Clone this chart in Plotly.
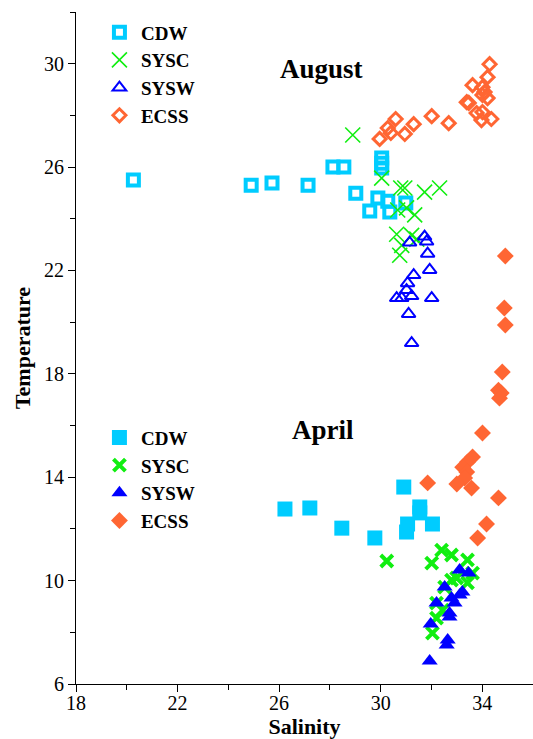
import plotly.graph_objects as go

# ---------------- data (Salinity, Temperature) ----------------
aug_cdw_s = [20.26, 24.90, 25.72, 27.14, 28.12, 28.55, 29.02, 29.57, 29.89, 30.04, 30.04, 30.04, 30.28, 30.36, 30.99]
aug_cdw_t = [25.50, 25.30, 25.38, 25.30, 26.00, 26.00, 24.99, 24.30, 24.80, 26.35, 26.15, 25.96, 24.68, 24.26, 24.61]

aug_sysc_s = [28.90, 30.04, 30.79, 30.95, 31.73, 32.32, 30.67, 31.02, 31.34, 30.63, 31.22, 31.42, 30.83, 30.75]
aug_sysc_t = [27.24, 25.57, 25.19, 25.19, 25.03, 25.19, 24.34, 24.42, 24.15, 23.40, 23.36, 23.21, 22.97, 22.59]

aug_sysw_s = [31.73, 31.81, 31.14, 31.85, 31.93, 31.30, 31.06, 31.02, 31.22, 30.83, 30.63, 32.01, 31.10, 31.22]
aug_sysw_t = [23.31, 23.12, 23.08, 22.65, 22.02, 21.82, 21.51, 21.24, 21.01, 20.93, 20.93, 20.93, 20.32, 19.19]

aug_ecss_s = [34.29, 34.21, 33.62, 34.01, 34.09, 34.01, 34.21, 33.39, 33.47, 33.78, 34.01, 33.97, 34.36,
              32.68, 32.01, 31.30, 30.95, 30.59, 30.28, 30.40, 29.96]
aug_ecss_t = [29.98, 29.48, 29.17, 29.09, 28.90, 28.79, 28.67, 28.51, 28.48, 28.09, 28.13, 27.82, 27.86,
              27.70, 27.97, 27.66, 27.28, 27.86, 27.51, 27.32, 27.09]

apr_cdw_s = [26.23, 27.21, 28.47, 29.77, 30.91, 31.54, 31.54, 31.06, 31.02, 32.04]
apr_cdw_t = [12.77, 12.81, 12.03, 11.65, 13.62, 12.85, 12.62, 12.19, 11.88, 12.19]

apr_sysc_s = [30.24, 32.01, 32.40, 32.79, 33.42, 33.62, 32.79, 32.99, 32.52, 33.42, 32.20, 32.44, 32.20, 32.04]
apr_sysc_t = [10.76, 10.68, 11.18, 10.99, 10.80, 10.29, 10.02, 10.10, 9.75, 9.91, 9.13, 8.86, 8.55, 7.97]

apr_sysw_s = [33.11, 33.46, 32.52, 33.22, 33.11, 32.79, 32.91, 32.20, 32.71, 32.71, 31.97, 32.64, 32.60, 31.93]
apr_sysw_t = [10.41, 10.29, 9.75, 9.56, 9.44, 9.33, 9.13, 9.13, 8.75, 8.59, 8.32, 7.70, 7.51, 6.89]

apr_ecss_s = [34.91, 34.87, 34.91, 34.79, 34.64, 34.75, 34.68, 34.01, 33.62, 33.42, 33.23, 33.39, 33.31,
              33.00, 33.58, 31.85, 34.64, 34.17, 33.82]
apr_ecss_t = [22.56, 20.55, 19.89, 18.07, 17.37, 17.26, 17.06, 15.71, 14.78, 14.59, 14.39, 14.20, 13.97,
              13.74, 13.58, 13.78, 13.20, 12.19, 11.65]

series_names = ["CDW", "SYSC", "SYSW", "ECSS"]
month_labels = ["August", "April"]
x_title = "Salinity"
y_title = "Temperature"

C_CDW = "#00CCFF"
C_SYSC = "#11EE11"
C_SYSW = "#0000FF"
C_ECSS = "#FF6633"

FONT = "Liberation Serif"

fig = go.Figure()

# August (open markers)
fig.add_trace(go.Scatter(x=aug_cdw_s, y=aug_cdw_t, mode="markers", name=series_names[0], legend="legend",
                         marker=dict(symbol="square-open", size=11, color=C_CDW, line=dict(width=4, color=C_CDW))))
fig.add_trace(go.Scatter(x=aug_sysc_s, y=aug_sysc_t, mode="markers", name=series_names[1], legend="legend",
                         marker=dict(symbol="x-thin-open", size=15, color=C_SYSC, line=dict(width=1.6, color=C_SYSC))))
fig.add_trace(go.Scatter(x=aug_sysw_s, y=aug_sysw_t, mode="markers", name=series_names[2], legend="legend",
                         marker=dict(symbol="triangle-up-open", size=12, color=C_SYSW, line=dict(width=2, color=C_SYSW))))
fig.add_trace(go.Scatter(x=aug_ecss_s, y=aug_ecss_t, mode="markers", name=series_names[3], legend="legend",
                         marker=dict(symbol="diamond-open", size=10, color=C_ECSS, line=dict(width=3, color=C_ECSS))))

# April (filled markers)
fig.add_trace(go.Scatter(x=apr_cdw_s, y=apr_cdw_t, mode="markers", name=series_names[0], legend="legend2",
                         marker=dict(symbol="square", size=15, color=C_CDW, line=dict(width=0))))
fig.add_trace(go.Scatter(x=apr_sysc_s, y=apr_sysc_t, mode="markers", name=series_names[1], legend="legend2",
                         marker=dict(symbol="x-thin-open", size=12, color=C_SYSC, line=dict(width=4, color=C_SYSC))))
fig.add_trace(go.Scatter(x=apr_sysw_s, y=apr_sysw_t, mode="markers", name=series_names[2], legend="legend2",
                         marker=dict(symbol="triangle-up", size=14, color=C_SYSW, line=dict(width=0))))
fig.add_trace(go.Scatter(x=apr_ecss_s, y=apr_ecss_t, mode="markers", name=series_names[3], legend="legend2",
                         marker=dict(symbol="diamond", size=13, color=C_ECSS, line=dict(width=0))))

legend_common = dict(font=dict(family=FONT, size=19, color="black", weight="bold"),
                     bgcolor="rgba(0,0,0,0)", borderwidth=0, xanchor="left", yanchor="top",
                     itemwidth=33, tracegroupgap=0)

fig.update_layout(
    width=533, height=739,
    margin=dict(l=76, r=0, t=12, b=55),
    paper_bgcolor="white", plot_bgcolor="white",
    font=dict(family=FONT, size=18, color="black"),
    showlegend=True,
    legend=dict(x=0.048, y=0.998, **legend_common),
    legend2=dict(x=0.048, y=0.395, **legend_common),
    xaxis=dict(range=[18, 36], tick0=18, dtick=4, showgrid=False, zeroline=False,
               showline=True, linecolor="black", linewidth=1,
               ticks="outside", ticklen=7, tickwidth=1, tickcolor="black",
               minor=dict(ticks="outside", ticklen=5, tickwidth=1, tickcolor="black", dtick=2, tick0=18),
               tickfont=dict(family=FONT, size=20), ticklabelstandoff=-6,
               title=dict(text=x_title, font=dict(family=FONT, size=22, weight="bold"), standoff=19),
               automargin=False),
    yaxis=dict(range=[6, 32], tick0=6, dtick=4, showgrid=False, zeroline=False,
               showline=True, linecolor="black", linewidth=1,
               ticks="outside", ticklen=7, tickwidth=1, tickcolor="black",
               minor=dict(ticks="outside", ticklen=5, tickwidth=1, tickcolor="black", dtick=2, tick0=6),
               tickfont=dict(family=FONT, size=20),
               title=dict(text=y_title, font=dict(family=FONT, size=22, weight="bold"), standoff=7),
               automargin=False),
    annotations=[
        dict(text=month_labels[0], x=0.538, y=0.915, xref="paper", yref="paper", showarrow=False,
             xanchor="center", yanchor="middle",
             font=dict(family=FONT, size=27, weight="bold", color="black")),
        dict(text=month_labels[1], x=0.54, y=0.378, xref="paper", yref="paper", showarrow=False,
             xanchor="center", yanchor="middle",
             font=dict(family=FONT, size=27, weight="bold", color="black")),
    ],
)

fig.write_html("out.html")
